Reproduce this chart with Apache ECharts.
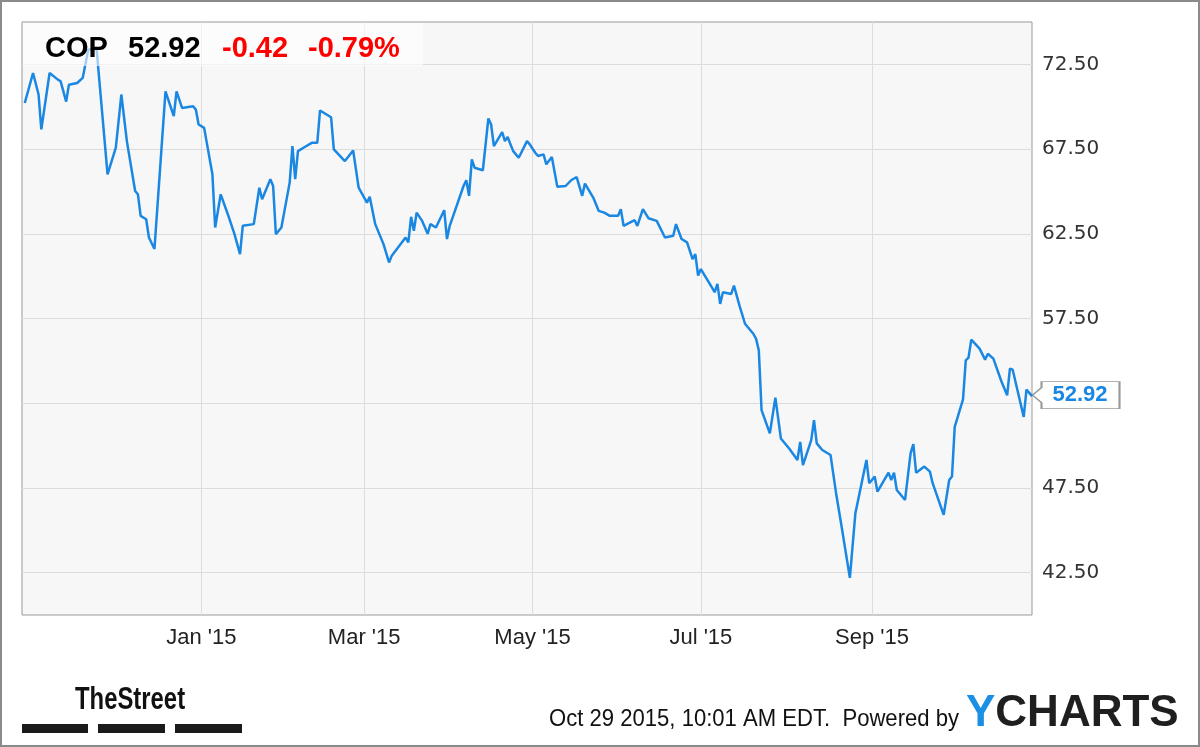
<!DOCTYPE html>
<html>
<head>
<meta charset="utf-8">
<script src="https://cdn.jsdelivr.net/npm/echarts@6/dist/echarts.min.js"></script>
<style>
html,body{margin:0;padding:0;background:#fff;}
#chart{width:1200px;height:747px;}
</style>
</head>
<body>
<div id="chart"></div>
<script>
const dates = [
'2014-10-29','2014-11-01','2014-11-03','2014-11-04','2014-11-07','2014-11-10','2014-11-11','2014-11-13','2014-11-14','2014-11-17',
'2014-11-19','2014-11-21','2014-11-24','2014-11-25','2014-11-28','2014-12-01','2014-12-03','2014-12-05','2014-12-08','2014-12-09',
'2014-12-10','2014-12-12','2014-12-13','2014-12-15','2014-12-19','2014-12-22','2014-12-23','2014-12-25','2014-12-29','2014-12-30',
'2014-12-31','2015-01-02','2015-01-05','2015-01-06','2015-01-08','2015-01-11','2015-01-13','2015-01-15','2015-01-16','2015-01-20',
'2015-01-22','2015-01-23','2015-01-26','2015-01-27','2015-01-28','2015-01-30','2015-02-02','2015-02-03','2015-02-04','2015-02-05',
'2015-02-07','2015-02-10','2015-02-12','2015-02-13','2015-02-17','2015-02-18','2015-02-22','2015-02-25','2015-02-27','2015-03-02',
'2015-03-03','2015-03-05','2015-03-08','2015-03-10','2015-03-11','2015-03-16','2015-03-17','2015-03-18','2015-03-19','2015-03-20',
'2015-03-22','2015-03-24','2015-03-25','2015-03-27','2015-03-30','2015-03-31','2015-04-01','2015-04-06','2015-04-07','2015-04-08',
'2015-04-09','2015-04-10','2015-04-13','2015-04-15','2015-04-16','2015-04-17','2015-04-20','2015-04-21','2015-04-22','2015-04-23',
'2015-04-24','2015-04-26','2015-04-29','2015-04-30','2015-05-02','2015-05-03','2015-05-05','2015-05-06','2015-05-08','2015-05-10',
'2015-05-13','2015-05-15','2015-05-17','2015-05-19','2015-05-20','2015-05-23','2015-05-25','2015-05-27','2015-05-29','2015-06-01',
'2015-06-02','2015-06-03','2015-06-07','2015-06-08','2015-06-10','2015-06-12','2015-06-15','2015-06-18','2015-06-21','2015-06-22',
'2015-06-24','2015-06-26','2015-06-28','2015-06-29','2015-06-30','2015-07-01','2015-07-05','2015-07-06','2015-07-07','2015-07-08',
'2015-07-09','2015-07-12','2015-07-13','2015-07-15','2015-07-17','2015-07-20','2015-07-21','2015-07-22','2015-07-23','2015-07-26',
'2015-07-28','2015-07-30','2015-08-02','2015-08-05','2015-08-06','2015-08-07','2015-08-10','2015-08-11','2015-08-12','2015-08-14',
'2015-08-17','2015-08-19','2015-08-21','2015-08-24','2015-08-26','2015-08-30','2015-08-31','2015-09-02','2015-09-03','2015-09-07',
'2015-09-08','2015-09-09','2015-09-10','2015-09-13','2015-09-15','2015-09-16','2015-09-17','2015-09-20','2015-09-22','2015-09-23',
'2015-09-27','2015-09-29','2015-09-30','2015-10-01','2015-10-04','2015-10-05','2015-10-06','2015-10-07','2015-10-10','2015-10-12',
'2015-10-13','2015-10-15','2015-10-18','2015-10-20','2015-10-21','2015-10-22','2015-10-26','2015-10-27','2015-10-29'
];
const prices = [
70.22,71.99,70.72,68.66,71.99,71.6,71.5,70.3,71.3,71.4,
71.7,73.36,73.46,71.6,66.01,67.58,70.72,67.97,65.03,64.83,
63.56,63.36,62.28,61.6,70.91,69.44,70.91,69.93,70.03,69.83,
68.95,68.75,66.01,62.87,64.83,63.46,62.48,61.3,62.97,63.07,
65.22,64.54,65.72,65.32,62.48,62.87,65.52,67.68,65.72,67.38,
67.58,67.87,67.87,69.78,69.38,67.48,66.79,67.42,65.22,64.34,
64.68,63.07,61.89,60.81,61.21,62.28,61.99,63.5,62.68,63.75,
63.26,62.5,63.07,62.87,63.89,62.19,62.97,65.32,65.66,64.74,
66.89,66.4,66.25,69.31,68.95,67.68,68.5,67.97,68.21,67.78,
67.38,66.99,67.97,67.78,67.28,67.09,67.19,66.6,67.03,65.27,
65.32,65.66,65.85,64.74,65.46,64.64,63.85,63.75,63.56,63.56,
63.95,62.97,63.3,62.97,63.95,63.42,63.26,62.28,62.38,63.07,
62.19,61.99,61.01,61.3,60.03,60.42,59.34,59.05,59.54,58.36,
59.05,58.95,59.44,58.26,57.19,56.6,56.31,55.62,52.09,50.72,
52.83,50.42,49.83,49.15,50.22,48.85,50.32,51.5,50.13,49.74,
49.44,47.19,45.22,42.19,46.01,49.15,47.78,48.17,47.28,48.4,
47.97,48.4,47.38,46.79,49.54,50.09,48.4,48.76,48.46,47.78,
45.91,47.97,48.17,51.11,52.72,55.03,55.19,56.25,55.72,55.07,
55.42,55.13,53.75,52.97,54.54,54.48,51.69,53.3,52.92
];
const yTicks = [42.5, 47.5, 52.5, 57.5, 62.5, 67.5, 72.5];
const xTickDates = ['2015-01-01','2015-03-01','2015-05-01','2015-07-01','2015-09-01'];
const xTickLabels = ["Jan '15","Mar '15","May '15","Jul '15","Sep '15"];
const xRange = ['2014-10-28', '2015-10-29'];
const ticker = 'COP';
const lastPrice = '52.92';
const change = '-0.42';
const changePct = '-0.79%';

const parse = s => echarts.number.parseDate(s).getTime();
const xTickVals = xTickDates.map(parse);
const seriesData = dates.map((d, i) => [parse(d), prices[i]]);
const sans = "'Liberation Sans',Arial,sans-serif";

const chart = echarts.init(document.getElementById('chart'), null, {renderer: 'canvas'});
chart.setOption({
  animation: false,
  backgroundColor: '#fff',
  grid: {left: 22, top: 22, right: 168, bottom: 132, show: true, backgroundColor: '#f7f7f7', borderColor: '#999', borderWidth: 1},
  xAxis: {
    type: 'value',
    min: parse(xRange[0]),
    max: parse(xRange[1]),
    axisLine: {show: false},
    axisTick: {show: false, customValues: xTickVals},
    axisLabel: {
      customValues: xTickVals,
      margin: 12,
      color: '#222',
      fontFamily: sans,
      fontSize: 22,
      formatter: v => { const i = xTickVals.indexOf(v); return i >= 0 ? xTickLabels[i] : ''; }
    },
    splitLine: {show: true, lineStyle: {color: '#dcdcdc', width: 1}}
  },
  yAxis: {
    type: 'value',
    position: 'right',
    min: 40,
    max: 75,
    axisLine: {show: false},
    axisTick: {show: false, customValues: yTicks},
    axisLabel: {
      customValues: yTicks,
      margin: 10,
      color: '#333',
      fontFamily: "'DejaVu Sans',sans-serif",
      fontSize: 20,
      formatter: v => v.toFixed(2)
    },
    splitLine: {show: true, lineStyle: {color: '#dcdcdc', width: 1}}
  },
  series: [{
    type: 'line',
    data: seriesData,
    showSymbol: false,
    symbol: 'none',
    lineStyle: {color: '#1a87e2', width: 2.5},
    z: 5,
    markPoint: {
      silent: true,
      symbol: 'path://M0,13.5 L9,6 L9,0 L87,0 L87,27 L9,27 L9,21 Z',
      symbolSize: [87, 27],
      symbolKeepAspect: false,
      symbolOffset: [44, -1],
      itemStyle: {color: '#fff', borderColor: '#999', borderWidth: 1.2},
      label: {show: true, position: 'inside', offset: [4, 0], color: '#1a87e2', fontWeight: 'bold', fontFamily: sans, fontSize: 22, formatter: lastPrice},
      data: [{coord: seriesData[seriesData.length - 1]}]
    }
  }],
  graphic: [
    {type: 'rect', z: 100, shape: {x: 1, y: 1, width: 1198, height: 745}, style: {fill: 'none', stroke: '#8a8a8a', lineWidth: 2}},
    {type: 'rect', z: 50, shape: {x: 23, y: 23, width: 400, height: 43}, style: {fill: 'rgba(255,255,255,0.6)'}},
    {type: 'text', z: 60, x: 45, y: 49, style: {text: ticker, fill: '#000', font: "bold 29px " + sans, verticalAlign: 'middle'}},
    {type: 'text', z: 60, x: 128, y: 49, style: {text: lastPrice, fill: '#000', font: "bold 29px " + sans, verticalAlign: 'middle'}},
    {type: 'text', z: 60, x: 222, y: 49, style: {text: change, fill: '#f00', font: "bold 29px " + sans, verticalAlign: 'middle'}},
    {type: 'text', z: 60, x: 308, y: 49, style: {text: changePct, fill: '#f00', font: "bold 29px " + sans, verticalAlign: 'middle'}},
    {type: 'text', z: 60, x: 75, y: 700, scaleX: 0.77, style: {text: 'TheStreet', fill: '#111', font: "bold 31px " + sans, verticalAlign: 'middle'}},
    {type: 'rect', z: 60, shape: {x: 22, y: 724, width: 66, height: 9}, style: {fill: '#1a1a1a'}},
    {type: 'rect', z: 60, shape: {x: 98, y: 724, width: 67, height: 9}, style: {fill: '#1a1a1a'}},
    {type: 'rect', z: 60, shape: {x: 175, y: 724, width: 67, height: 9}, style: {fill: '#1a1a1a'}},
    {type: 'text', z: 60, x: 959, y: 719, scaleX: 0.92, style: {text: 'Oct 29 2015, 10:01 AM EDT.  Powered by', fill: '#111', font: "24px " + sans, align: 'right', verticalAlign: 'middle'}},
    {type: 'text', z: 60, x: 966, y: 714, style: {text: '{y|Y}{c|CHARTS}', rich: {y: {fill: '#1a8fe3', font: "bold 44px " + sans}, c: {fill: '#1f1f1f', font: "bold 44px " + sans}}, verticalAlign: 'middle'}}
  ]
});
</script>
</body>
</html>
